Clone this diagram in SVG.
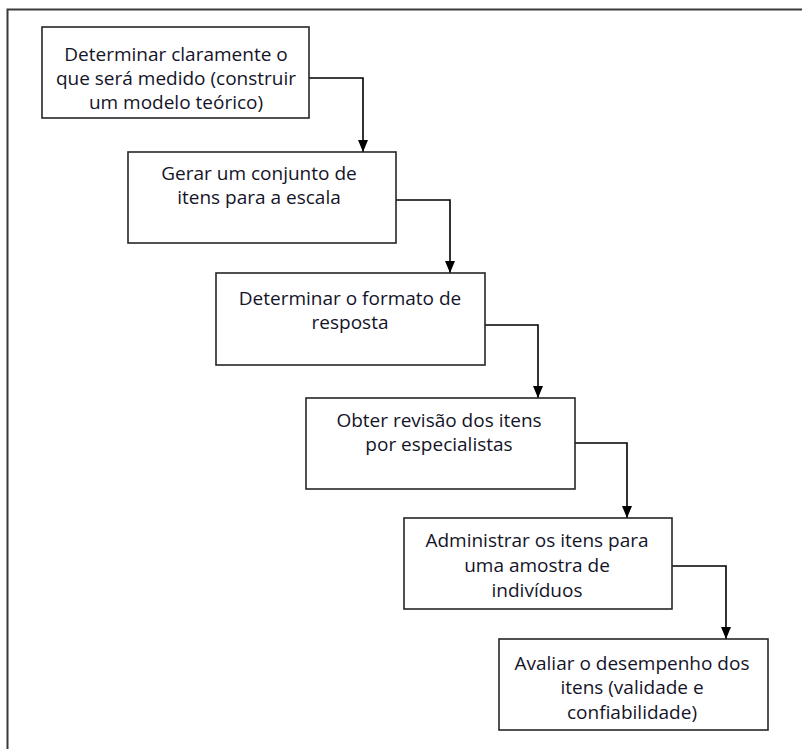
<svg xmlns="http://www.w3.org/2000/svg" width="802" height="749" viewBox="0 0 802 749">
  <style>
    .frame { fill: none; stroke: #3a3a3a; stroke-width: 2; }
    .box { fill: #ffffff; stroke: #262626; stroke-width: 1.6; }
    .lbl { font-family: "Open Sans", "DejaVu Sans", sans-serif; font-size: 19px; fill: #141428; text-anchor: middle; }
    .conn { fill: none; stroke: #000000; stroke-width: 1.6; }
  </style>
  <defs>
    <!-- arrowhead drawn along +x so orient="auto" turns it to the line direction -->
    <marker id="arrow" viewBox="0 0 12 10" refX="12" refY="5" markerWidth="12" markerHeight="10" markerUnits="userSpaceOnUse" orient="auto">
      <path d="M0,0 L12,5 L0,10 Z" fill="#000000"/>
    </marker>
  </defs>

  <rect class="frame" x="7.5" y="9.5" width="800" height="745"/>

  <g id="connectors">
    <path class="conn" d="M309,78 H363 V152" marker-end="url(#arrow)"/>
    <path class="conn" d="M396,200 H450 V273" marker-end="url(#arrow)"/>
    <path class="conn" d="M485,325 H538 V398" marker-end="url(#arrow)"/>
    <path class="conn" d="M575,443 H627 V518" marker-end="url(#arrow)"/>
    <path class="conn" d="M672,566 H726 V639" marker-end="url(#arrow)"/>
  </g>

  <g id="n1">
    <rect class="box" x="42" y="27" width="267" height="91"/>
    <text class="lbl" x="176" y="61">Determinar claramente o</text>
    <text class="lbl" x="176" y="85">que será medido (construir</text>
    <text class="lbl" x="176" y="109">um modelo teórico)</text>
  </g>
  <g id="n2">
    <rect class="box" x="128" y="152" width="268" height="91"/>
    <text class="lbl" x="259" y="180">Gerar um conjunto de</text>
    <text class="lbl" x="259" y="204">itens para a escala</text>
  </g>
  <g id="n3">
    <rect class="box" x="216" y="273" width="269" height="92"/>
    <text class="lbl" x="350" y="305">Determinar o formato de</text>
    <text class="lbl" x="350" y="329">resposta</text>
  </g>
  <g id="n4">
    <rect class="box" x="306" y="398" width="269" height="91"/>
    <text class="lbl" x="439" y="427">Obter revisão dos itens</text>
    <text class="lbl" x="439" y="451">por especialistas</text>
  </g>
  <g id="n5">
    <rect class="box" x="404" y="518" width="268" height="91"/>
    <text class="lbl" x="537" y="547">Administrar os itens para</text>
    <text class="lbl" x="537" y="572">uma amostra de</text>
    <text class="lbl" x="537" y="597">indivíduos</text>
  </g>
  <g id="n6">
    <rect class="box" x="499" y="639" width="269" height="91"/>
    <text class="lbl" x="632" y="670">Avaliar o desempenho dos</text>
    <text class="lbl" x="632" y="694">itens (validade e</text>
    <text class="lbl" x="632" y="719">confiabilidade)</text>
  </g>
</svg>
